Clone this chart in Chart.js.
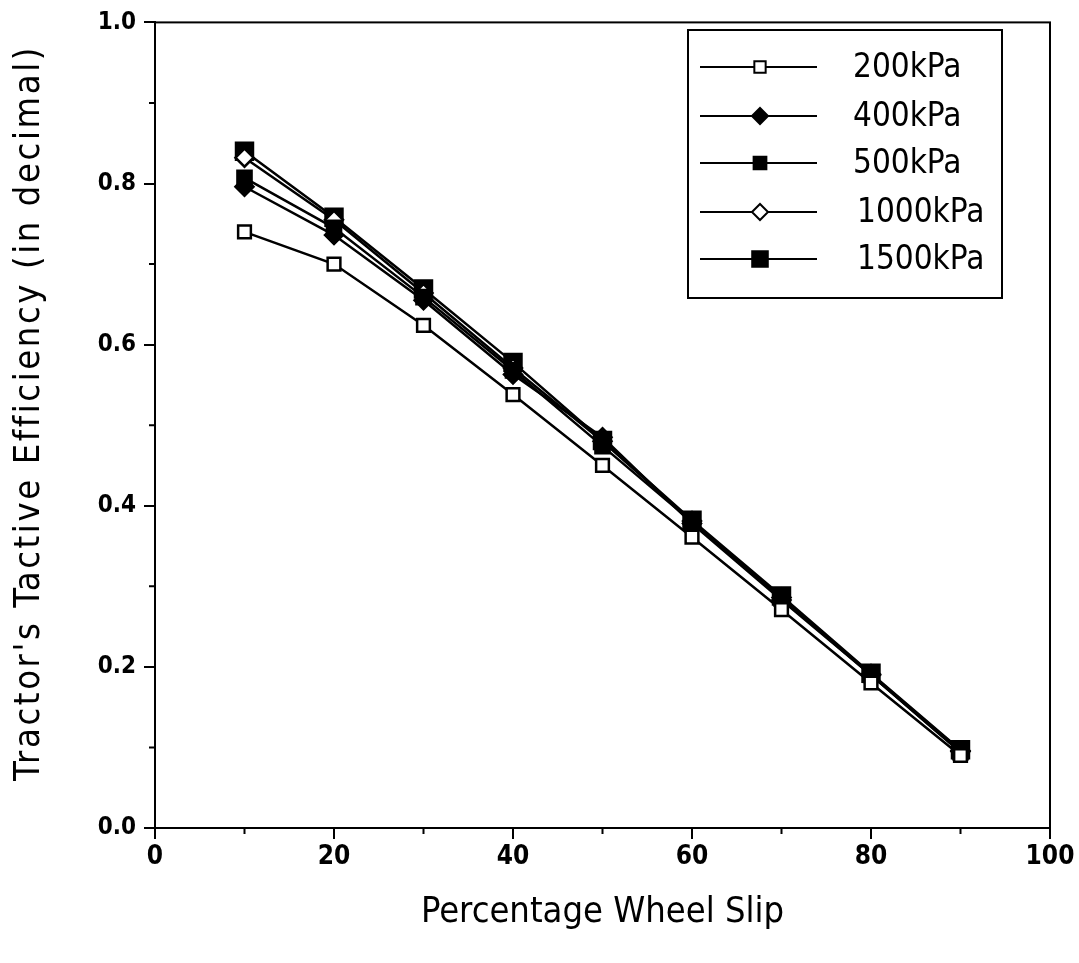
<!DOCTYPE html>
<html>
<head>
<meta charset="utf-8">
<script src="https://cdn.jsdelivr.net/npm/chart.js@4/dist/chart.umd.min.js"></script>
<style>
  html, body { margin: 0; padding: 0; background: #fff; }
  #wrap { width: 1079px; height: 963px; }
</style>
</head>
<body>
<div id="wrap"><canvas id="slip-chart"></canvas></div>
<script>
// wheel slip (%) on the x axis
var slip = [10, 20, 30, 40, 50, 60, 70, 80, 90];

// tractive efficiency per inflation pressure
var eff200 = [0.740, 0.700, 0.624, 0.538, 0.450, 0.361, 0.271, 0.180, 0.090];
var eff400 = [0.796, 0.736, 0.655, 0.563, 0.485, 0.378, 0.283, 0.190, 0.095];
var eff500 = [0.807, 0.745, 0.659, 0.568, 0.474, 0.380, 0.285, 0.190, 0.094];
var eff1000 = [0.832, 0.755, 0.664, 0.571, 0.480, 0.381, 0.286, 0.191, 0.096];
var eff1500 = [0.840, 0.758, 0.669, 0.578, 0.481, 0.382, 0.288, 0.192, 0.097];

var seriesNames = ['200kPa', '400kPa', '500kPa', '1000kPa', '1500kPa'];
var xTicks = [0, 20, 40, 60, 80, 100];
var yTicks = [0.0, 0.2, 0.4, 0.6, 0.8, 1.0];
var xTitle = 'Percentage Wheel Slip';
var yTitle = "Tractor's Tactive Efficiency (in decimal)";

var FONT = "'DejaVu Sans Condensed', 'Liberation Sans Narrow', 'DejaVu Sans', sans-serif";

function pts(ys) {
    return slip.map(function(x, i) { return {x: x, y: ys[i]}; });
}

var styles = [
    {pointStyle: 'rect', radius: 9, fill: '#fff'},
    {pointStyle: 'rectRot', radius: 9, fill: '#000'},
    {pointStyle: 'rect', radius: 10, fill: '#000'},
    {pointStyle: 'rectRot', radius: 9, fill: '#fff'},
    {pointStyle: 'rect', radius: 12, fill: '#000'}
];
var allData = [eff200, eff400, eff500, eff1000, eff1500];

var datasets = allData.map(function(d, i) {
    return {
        label: seriesNames[i],
        data: pts(d),
        borderColor: '#000',
        borderWidth: 2.5,
        pointStyle: styles[i].pointStyle,
        pointRadius: styles[i].radius,
        pointBackgroundColor: styles[i].fill,
        pointBorderColor: '#000',
        pointBorderWidth: 2.5,
        fill: false,
        tension: 0
    };
});

// frame, minor ticks, axis titles and the boxed legend
var decor = {
    id: 'decor',
    afterDraw: function(chart) {
        var ctx = chart.ctx, a = chart.chartArea;
        var xs = chart.scales.x, ys = chart.scales.y;
        ctx.save();
        ctx.strokeStyle = '#000';
        ctx.lineWidth = 2;
        ctx.strokeRect(a.left, a.top, a.right - a.left, a.bottom - a.top);

        // minor ticks
        ctx.beginPath();
        for (var v = 10; v < 100; v += 20) {
            var px = xs.getPixelForValue(v);
            ctx.moveTo(px, a.bottom);
            ctx.lineTo(px, a.bottom + 6);
        }
        for (var w = 0.1; w < 1; w += 0.2) {
            var py = ys.getPixelForValue(w);
            ctx.moveTo(a.left, py);
            ctx.lineTo(a.left - 6, py);
        }
        ctx.stroke();

        // axis titles
        ctx.fillStyle = '#000';
        ctx.textAlign = 'center';
        ctx.textBaseline = 'middle';
        ctx.font = '36px ' + FONT;
        ctx.letterSpacing = '0px';
        ctx.fillText(xTitle, (a.left + a.right) / 2, 913);
        ctx.save();
        ctx.translate(30, 413);
        ctx.rotate(-Math.PI / 2);
        ctx.letterSpacing = '2.6px';
        ctx.fillText(yTitle, 0, 0);
        ctx.restore();
        ctx.letterSpacing = '0px';

        // legend box
        var bx = 688, by = 30, bw = 314, bh = 268;
        ctx.fillStyle = '#fff';
        ctx.fillRect(bx, by, bw, bh);
        ctx.strokeRect(bx, by, bw, bh);
        var rows = [67, 116, 163, 212, 259];
        ctx.font = '33px ' + FONT;
        ctx.textAlign = 'left';
        chart.data.datasets.forEach(function(ds, i) {
            var y = rows[i];
            ctx.strokeStyle = '#000';
            ctx.lineWidth = 2;
            ctx.beginPath();
            ctx.moveTo(700, y);
            ctx.lineTo(817, y);
            ctx.stroke();
            ctx.fillStyle = ds.pointBackgroundColor;
            Chart.helpers.drawPoint(ctx, {
                pointStyle: ds.pointStyle,
                radius: ds.pointRadius - 1,
                rotation: 0,
                borderWidth: 2
            }, 760, y);
            ctx.fillStyle = '#000';
            ctx.fillText(ds.label, i < 3 ? 853 : 857, y + 1);
        });
        ctx.restore();
    }
};

var chart = new Chart(document.getElementById('slip-chart').getContext('2d'), {
    type: 'line',
    data: {datasets: datasets},
    plugins: [decor],
    options: {
        responsive: true,
        maintainAspectRatio: false,
        animation: false,
        layout: {padding: {left: 0, top: 20, right: 29, bottom: 0}},
        plugins: {legend: {display: false}, tooltip: {enabled: false}},
        scales: {
            x: {
                type: 'linear',
                min: 0, max: 100,
                afterBuildTicks: function(s) { s.ticks = xTicks.map(function(v) { return {value: v}; }); },
                afterFit: function(s) { s.height = 135; },
                border: {color: '#000', width: 2},
                grid: {drawOnChartArea: false, color: '#000', lineWidth: 2, tickLength: 11},
                ticks: {color: '#000', padding: 3, maxRotation: 0, font: {family: FONT, size: 26, weight: 'bold'}}
            },
            y: {
                type: 'linear',
                min: 0, max: 1,
                afterBuildTicks: function(s) { s.ticks = yTicks.map(function(v) { return {value: v}; }); },
                afterFit: function(s) { s.width = 155; },
                border: {color: '#000', width: 2},
                grid: {drawOnChartArea: false, color: '#000', lineWidth: 2, tickLength: 11},
                ticks: {color: '#000', padding: 8, font: {family: FONT, size: 24, weight: 'bold'},
                        callback: function(v) { return v.toFixed(1); }}
            }
        }
    }
});
</script>
</body>
</html>
